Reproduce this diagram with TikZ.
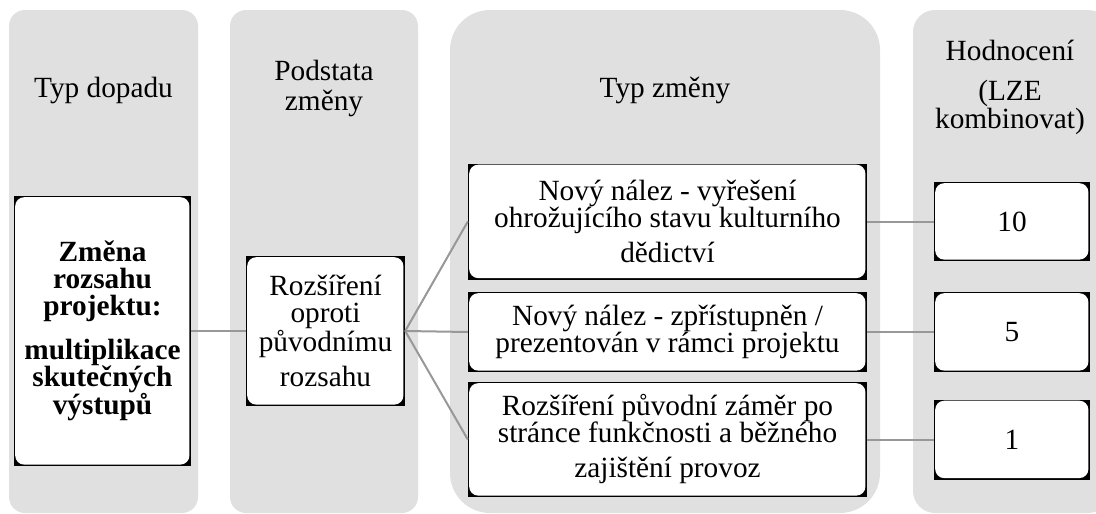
\documentclass[tikz,border=0pt]{standalone}
\usepackage{fontspec}
\setmainfont{Liberation Serif}
\usetikzlibrary{
    calc,
    positioning
}
\definecolor{colgray}{RGB}{224,224,224}
\definecolor{lnkgray}{RGB}{152,152,152}
\tikzset{colbg/.style={fill=colgray}}
\tikzset{hdr/.style={anchor=base, align=center, inner sep=0pt, font=\fontsize{29.3}{28}\selectfont}}
\tikzset{ibox/.style={fill=black, inner sep=0pt, align=center, font=\fontsize{29.3}{27}\selectfont,
    path picture={\fill[white, rounded corners=9pt] ([shift={(1.2pt,1.4pt)}]path picture bounding box.south west) rectangle ([shift={(-1.6pt,-1.2pt)}]path picture bounding box.north east);}}}
\tikzset{lnk/.style={draw=lnkgray, line width=2pt}}

\begin{document}
\begin{tikzpicture}[x=1pt, y=-1pt]
                                \useasboundingbox (0,0) rectangle (1096,514);
                                \clip (0,0) rectangle (1096,514);
                                % columns
                                \fill[colbg, rounded corners=16pt] (9,10) rectangle (198,513);
                                \fill[colbg, rounded corners=16pt] (230,10) rectangle (418,513);
                                \fill[colbg, rounded corners=40pt] (450,10) rectangle (880,513);
                                \fill[colbg, rounded corners=22pt] (913,10) rectangle (1110,513);
                                % headings (base = last line)
                                \node[hdr] (h1) at (103.5, 97) {Typ dopadu};
                                \node[hdr] (h2) at (324, 110) {Podstata\\[2pt]změny};
                                \node[hdr] (h3) at (665, 97) {Typ změny};
                                \node[hdr] (h4) at (1010, 128) {Hodnocení\\[12pt](LZE\\kombinovat)};
                                % boxes
                                \node[ibox, minimum width=177pt, minimum height=270pt,
                                      font=\fontsize{29.3}{27}\selectfont\bfseries] (imp) at (102.5, 331)
                                    {Změna\\rozsahu\\projektu:\\[17pt]multiplikace\\skutečných\\výstupů};
                                \node[ibox, minimum width=159pt, minimum height=150pt] (nat) at (325.5, 331)
                                    {Rozšíření\\oproti\\původnímu\\[8pt]rozsahu};
                                \node[ibox, minimum width=399pt, minimum height=116pt] (chA) at (667.5, 221.5)
                                    {Nový nález - vyřešení\\ohrožujícího stavu kulturního\\[8pt]dědictví};
                                \node[ibox, minimum width=399pt, minimum height=80pt] (chB) at (667.5, 332)
                                    {Nový nález - zpřístupněn /\\prezentován v rámci projektu};
                                \node[ibox, minimum width=399pt, minimum height=115pt] (chC) at (667.5, 439.5)
                                    {Rozšíření původní záměr po\\stránce funkčnosti a běžného\\[8pt]zajištění provoz};
                                \node[ibox, minimum width=156pt, minimum height=79pt] (ev10) at (1012, 221.5) {10};
                                \node[ibox, minimum width=156pt, minimum height=80pt] (ev5) at (1012, 332) {5};
                                \node[ibox, minimum width=156pt, minimum height=80pt] (ev1) at (1012, 439.5) {1};
                                % links
                                \draw[lnk] (imp.east) -- (nat.west);
                                \foreach \t in {chA,chB,chC} {
                                    \draw[lnk] (nat.east) -- (\t.west);
                                }
                                \draw[lnk] (chA.east) -- (ev10.west);
                                \draw[lnk] (chB.east) -- (ev5.west);
                                \draw[lnk] (chC.east) -- (ev1.west);
                            \end{tikzpicture}
\end{document}
